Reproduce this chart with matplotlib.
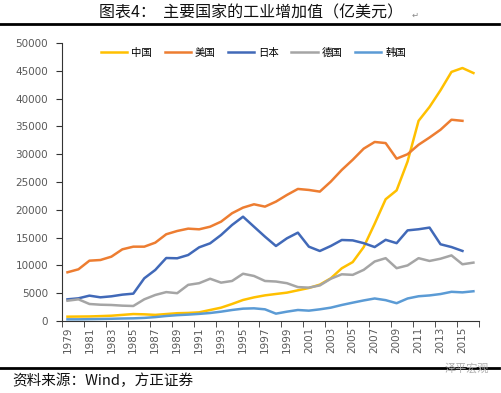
import matplotlib
matplotlib.use("Agg")
import matplotlib.pyplot as plt
from matplotlib.lines import Line2D

plt.rcParams['font.family'] = ['Noto Sans CJK SC', 'DejaVu Sans']

# data (unit: 亿美元)
years = list(range(1979, 2017))

china = [780, 800, 820, 880, 950, 1100, 1250, 1200, 1100, 1250, 1400, 1450, 1560,
         1980, 2400, 3060, 3780, 4250, 4610, 4860, 5100, 5520, 5940, 6540, 7680, 9480,
         10600, 13300, 17500, 21900, 23500, 28700, 36000, 38500, 41500, 44800, 45500, 44600]

usa = [8760, 9300, 10850, 10970, 11570, 12890, 13370, 13370, 14090, 15600, 16190, 16610, 16490,
       16960, 17870, 19380, 20390, 20990, 20570, 21470, 22670, 23750, 23570, 23270, 25070, 27170,
       29000, 31000, 32200, 32000, 29200, 30000, 31700, 33000, 34400, 36200, 36000, None]

japan = [3900, 4080, 4560, 4260, 4440, 4740, 4920, 7680, 9180, 11330, 11280, 11870, 13250,
         13970, 15470, 17270, 18760, 16960, 15170, 13490, 14870, 15890, 13370, 12590, 13490, 14570,
         14500, 14000, 13300, 14600, 14000, 16300, 16500, 16800, 13800, 13300, 12600, None]

germany = [3650, 3900, 3060, 2930, 2880, 2760, 2700, 3900, 4680, 5200, 5000, 6500, 6800,
           7600, 6900, 7200, 8500, 8100, 7200, 7100, 6800, 6100, 6000, 6400, 7600, 8400,
           8300, 9200, 10700, 11300, 9500, 10000, 11300, 10800, 11200, 11800, 10200, 10500]

korea = [300, 300, 330, 360, 400, 450, 480, 560, 700, 900, 1050, 1150, 1280,
         1440, 1680, 1980, 2220, 2280, 2100, 1320, 1680, 1980, 1860, 2100, 2400, 2880,
         3300, 3700, 4050, 3750, 3200, 4050, 4450, 4600, 4850, 5250, 5150, 5350]

series = [("中国", china, "#FFC000"),
          ("美国", usa, "#ED7D31"),
          ("日本", japan, "#4169B8"),
          ("德国", germany, "#A5A5A5"),
          ("韩国", korea, "#5B9BD5")]

fig = plt.figure(figsize=(5.02, 3.93), dpi=100)
ax = fig.add_axes([0.1235, 0.1832, 0.8305, 0.7074])

idx = list(range(len(years)))
for name, vals, color in series:
    ax.plot(idx, [float('nan') if v is None else v for v in vals],
            color=color, lw=1.8, label=name, solid_joinstyle='round')

ax.set_xlim(-0.5, len(years) - 0.5)
ax.set_ylim(0, 50000)
ax.set_yticks(range(0, 50001, 5000))
ax.set_yticklabels([str(v) for v in range(0, 50001, 5000)])

# category labels every 2 years, ticks between categories
ax.set_xticks(idx[::2])
ax.set_xticklabels([str(y) for y in years[::2]], rotation=90)
ax.set_xticks([i - 0.5 for i in idx[::2]] + [len(years) - 0.5], minor=True)
ax.tick_params(axis='x', which='major', length=0, pad=4)
ax.tick_params(axis='x', which='minor', length=4, color='#333333')
ax.tick_params(axis='y', length=4, color='#333333', pad=6)
ax.tick_params(labelsize=7.5, labelcolor='#595959')
for lab in ax.get_xticklabels() + ax.get_yticklabels():
    lab.set_fontfamily('DejaVu Sans')

for s in ['top', 'right']:
    ax.spines[s].set_visible(False)
ax.spines['left'].set_color('#333333')
ax.spines['bottom'].set_color('#333333')

fig.legend(loc='center', bbox_to_anchor=(0.505, 0.865), ncol=5, frameon=False,
           fontsize=7.5, handlelength=2.5, columnspacing=1.2, handletextpad=0.4)

fig.text(0.5, 0.968, "图表4：  主要国家的工业增加值（亿美元）", ha='center', va='center',
         fontsize=11.5, fontweight='medium', color='#111111')
fig.text(0.826, 0.962, "↵", ha='center', va='center', fontsize=6, color='#888888')

fig.add_artist(Line2D([0.0, 0.995], [0.939, 0.939], color='black', lw=2))
fig.add_artist(Line2D([0.0, 0.995], [0.0636, 0.0636], color='black', lw=2))

fig.text(0.024, 0.03, "资料来源：Wind，方正证券", ha='left', va='center',
         fontsize=10.5, color='#111111')
fig.text(0.975, 0.062, "泽平宏观", ha='right', va='center', fontsize=8, color='#b0b0b0')

fig.savefig("out.png", dpi=100)
